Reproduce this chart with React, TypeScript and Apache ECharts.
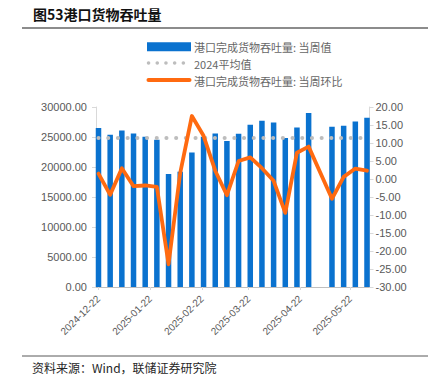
import React, { useEffect, useRef } from "react";
import * as echarts from "echarts";

const dates = [
  "2024-12-22", "2024-12-29", "2025-01-05", "2025-01-12", "2025-01-19", "2025-01-26",
  "2025-02-02", "2025-02-09", "2025-02-16", "2025-02-23", "2025-03-02", "2025-03-09",
  "2025-03-16", "2025-03-23", "2025-03-30", "2025-04-06", "2025-04-13", "2025-04-20",
  "2025-04-27", "2025-05-04", "2025-05-11", "2025-05-18", "2025-05-25", "2025-06-01",
];
const throughput: (number | null)[] = [
  26500, 25380, 26100, 25600, 25050, 24550, 18830, 19220, 22430, 25050, 25600, 24350,
  25550, 27050, 27720, 27430, 24830, 26600, 29000, null, 26720, 26880, 27600, 28220,
];
const wowChange: (number | null)[] = [
  1.5, -4.4, 3.0, -2.0, -1.8, -2.2, -23.7, 1.7, 17.5, 12.0, 2.3, -4.5,
  5.0, 6.0, 3.0, -0.5, -9.4, 7.3, 9.0, null, -5.5, 0.6, 2.9, 2.3,
];
const avg2024 = 24830;
const labelDates = ["2024-12-22", "2025-01-22", "2025-02-22", "2025-03-22", "2025-04-22", "2025-05-22"];
const seriesNames = ["港口完成货物吞吐量: 当周值", "2024平均值", "港口完成货物吞吐量: 当周环比"];

const toTs = (s: string) => {
  const [y, m, d] = s.split("-").map(Number);
  return new Date(y, m - 1, d).getTime();
};
const DAY = 86400000;
const pad = (n: number) => (n < 10 ? "0" + n : "" + n);
const fmtDate = (v: number) => {
  const d = new Date(v);
  return d.getFullYear() + "-" + pad(d.getMonth() + 1) + "-" + pad(d.getDate());
};

const BLUE = "#0A72CF";
const GRAY_DOT = "#BDBDBD";
const ORANGE = "#FF6A10";

export default function App() {
  const ref = useRef<HTMLDivElement>(null);
  useEffect(() => {
    if (!ref.current) return;
    document.body.style.margin = "0";
    const chart = echarts.init(ref.current, undefined, { renderer: "svg" });
    const latin = "'Liberation Sans', Arial, sans-serif";
    const cjk = "'Noto Sans CJK SC', sans-serif";
    const axisGray = "#595959";
    const barData = dates
      .map((d, i) => [toTs(d), throughput[i]])
      .filter((p) => p[1] !== null);
    const lineData = dates
      .map((d, i) => [toTs(d), wowChange[i]])
      .filter((p) => p[1] !== null);
    const avgData = dates.map((d) => [toTs(d), avg2024]);
    const labelTs = labelDates.map(toTs);

    const legendX = 147;
    const legendText = (i: number, y: number) => ({
      type: "text",
      x: 194,
      y,
      style: {
        text: seriesNames[i],
        fontFamily: cjk,
        fontSize: 11,
        fill: "#666666",
        verticalAlign: "middle",
        align: "left",
      },
    });

    chart.setOption({
      animation: false,
      backgroundColor: "#ffffff",
      grid: { left: 96, right: 58.5, top: 107, bottom: 95, containLabel: false },
      xAxis: {
        type: "value",
        min: toTs(dates[0]) - 1.5 * DAY,
        max: toTs(dates[dates.length - 1]) + 1.5 * DAY,
        scale: true,
        axisLine: { show: true, onZero: false, lineStyle: { color: "#BFBFBF", width: 1 } },
        axisTick: { show: true, customValues: labelTs, length: 3, lineStyle: { color: "#D9D9D9" } },
        axisLabel: {
          customValues: labelTs,
          rotate: 45,
          margin: 10,
          fontFamily: latin,
          fontSize: 10,
          color: axisGray,
          formatter: (v: number) => fmtDate(v),
        },
        splitLine: { show: false },
      },
      yAxis: [
        {
          type: "value",
          position: "left",
          min: 0,
          max: 30000,
          interval: 5000,
          axisLine: { show: true, lineStyle: { color: "#D9D9D9" } },
          axisTick: { show: true, length: 4, lineStyle: { color: "#D9D9D9" } },
          axisLabel: {
            fontFamily: latin,
            fontSize: 11,
            color: axisGray,
            margin: 9,
            formatter: (v: number) => v.toFixed(2),
          },
          splitLine: { show: false },
        },
        {
          type: "value",
          position: "right",
          min: -30,
          max: 20,
          interval: 5,
          axisLine: { show: true, lineStyle: { color: "#D9D9D9" } },
          axisTick: { show: true, length: 4, lineStyle: { color: "#D9D9D9" } },
          axisLabel: {
            fontFamily: latin,
            fontSize: 11,
            color: axisGray,
            margin: 6,
            formatter: (v: number) => v.toFixed(2),
          },
          splitLine: { show: false },
        },
      ],
      series: [
        {
          name: seriesNames[0],
          type: "bar",
          yAxisIndex: 0,
          barWidth: 5.5,
          itemStyle: { color: BLUE },
          data: barData,
          z: 1,
        },
        {
          name: seriesNames[1],
          type: "line",
          yAxisIndex: 0,
          symbol: "none",
          lineStyle: { color: GRAY_DOT, width: 4, type: [0.1, 9.6], cap: "round" },
          itemStyle: { color: GRAY_DOT },
          data: avgData,
          z: 2,
        },
        {
          name: seriesNames[2],
          type: "line",
          yAxisIndex: 1,
          symbol: "none",
          lineStyle: { color: ORANGE, width: 3.8, cap: "round", join: "round" },
          itemStyle: { color: ORANGE },
          data: lineData,
          z: 3,
        },
      ],
      graphic: [
        {
          type: "text",
          x: 33,
          y: 14,
          style: {
            text: "图53港口货物吞吐量",
            fontFamily: cjk,
            fontWeight: "bold",
            fontSize: 14,
            fill: "#111111",
            verticalAlign: "middle",
          },
        },
        {
          type: "line",
          shape: { x1: 22, y1: 28, x2: 428, y2: 28 },
          style: { stroke: "#8C8C8C", lineWidth: 2 },
        },
        {
          type: "rect",
          shape: { x: legendX, y: 42.3, width: 44, height: 9 },
          style: { fill: BLUE },
        },
        legendText(0, 47),
        {
          type: "line",
          shape: { x1: legendX + 1.5, y1: 63, x2: legendX + 44, y2: 63 },
          style: { stroke: GRAY_DOT, lineWidth: 3.5, lineDash: [0.1, 8.6], lineCap: "round" },
        },
        legendText(1, 63.5),
        {
          type: "line",
          shape: { x1: legendX + 1.5, y1: 80, x2: legendX + 42.5, y2: 80 },
          style: { stroke: ORANGE, lineWidth: 4, lineCap: "round" },
        },
        legendText(2, 80.5),
        {
          type: "line",
          shape: { x1: 22, y1: 356, x2: 428, y2: 356 },
          style: { stroke: "#595959", lineWidth: 1 },
        },
        {
          type: "text",
          x: 32,
          y: 367,
          style: {
            text: "资料来源：Wind，联储证券研究院",
            fontFamily: cjk,
            fontSize: 12,
            fill: "#262626",
            verticalAlign: "middle",
          },
        },
      ],
    });
    return () => chart.dispose();
  }, []);
  return <div ref={ref} style={{ width: 428, height: 382 }} />;
}
